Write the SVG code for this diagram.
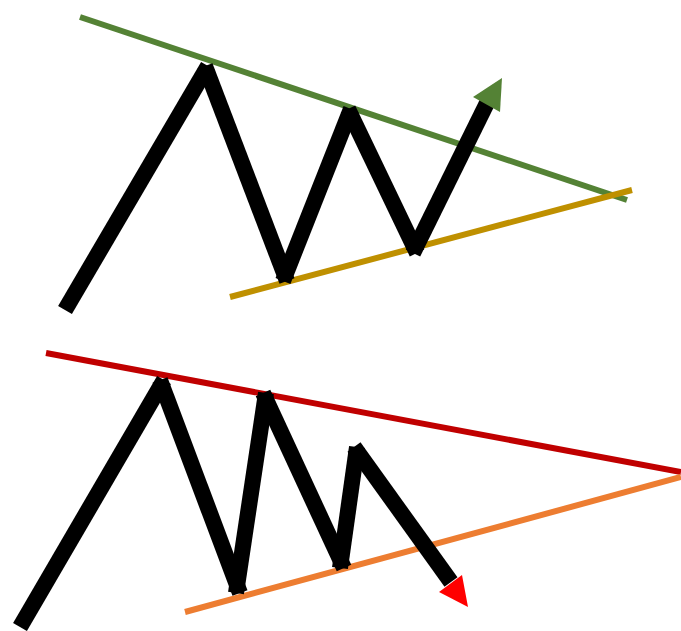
<svg xmlns="http://www.w3.org/2000/svg" width="681" height="631" viewBox="0 0 681 631">
<style>
.zz{stroke:#000;stroke-width:16;fill:none;stroke-linecap:butt}
.tl{stroke-width:6;fill:none;stroke-linecap:butt}
</style>
<rect width="681" height="631" fill="#fff"/>
<g id="top-trendlines">
<line class="tl" x1="80" y1="17" x2="627" y2="200" stroke="#548235"/>
<line class="tl" x1="230" y1="297" x2="632" y2="190" stroke="#BF9000"/>
</g>
<g id="top-zigzag">
<line class="zz" x1="65" y1="310" x2="208" y2="66"/>
<line class="zz" x1="205" y1="66" x2="287" y2="281"/>
<line class="zz" x1="283" y1="281" x2="351" y2="109"/>
<line class="zz" x1="348" y1="109" x2="417" y2="253"/>
<line class="zz" x1="413" y1="253" x2="487" y2="103"/>
<polygon points="502,78 473,97 500,112" fill="#548235"/>
</g>
<g id="bottom-trendlines">
<line class="tl" x1="46" y1="353" x2="681" y2="472" stroke="#C00000"/>
<line class="tl" x1="185" y1="612" x2="681" y2="477" stroke="#ED7D31"/>
</g>
<g id="bottom-zigzag">
<line class="zz" x1="20" y1="627" x2="164" y2="380"/>
<line class="zz" x1="160" y1="380" x2="240" y2="593"/>
<line class="zz" x1="236" y1="593" x2="266" y2="393"/>
<line class="zz" x1="263" y1="393" x2="344" y2="568"/>
<line class="zz" x1="340" y1="568" x2="357" y2="447"/>
<line class="zz" x1="354" y1="447" x2="451" y2="582"/>
<polygon points="468,607 439,592 462,575" fill="#FF0000"/>
</g>
</svg>
